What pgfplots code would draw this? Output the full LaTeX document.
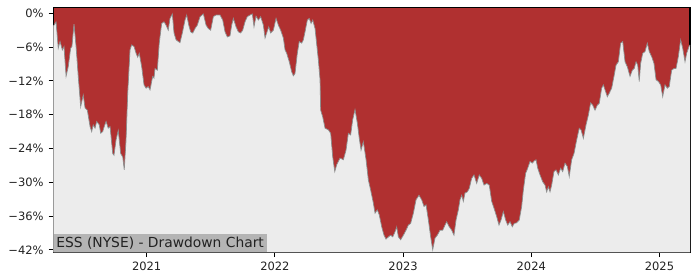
\documentclass[border=0pt]{standalone}
\usepackage{pgfplots}
\usepackage{pgfplotstable}
\pgfplotsset{compat=1.18}
\usepackage{fontspec}
\setmainfont{DejaVu Sans}
\definecolor{ddred}{HTML}{B03030}
\definecolor{bggray}{HTML}{ECECEC}
\definecolor{edgegray}{HTML}{8C8C8C}
\definecolor{boxgray}{HTML}{B4B4B4}
\definecolor{txt}{HTML}{222222}

\pgfplotstableread{
year dd
2020.271 -2.3
2020.293 -1.5
2020.310 -6.2
2020.324 -5.0
2020.342 -6.5
2020.355 -5.9
2020.371 -11.2
2020.388 -9.5
2020.407 -6.2
2020.417 -5.9
2020.433 -1.9
2020.449 -5.9
2020.466 -11.2
2020.485 -16.6
2020.505 -14.5
2020.519 -16.8
2020.537 -17.2
2020.558 -20.1
2020.571 -21.0
2020.583 -19.8
2020.597 -20.4
2020.610 -19.2
2020.630 -19.8
2020.641 -21.3
2020.657 -21.0
2020.669 -20.1
2020.683 -19.2
2020.700 -20.4
2020.714 -20.1
2020.735 -24.9
2020.745 -25.2
2020.761 -22.5
2020.778 -20.8
2020.797 -24.9
2020.813 -25.5
2020.825 -27.8
2020.839 -22.5
2020.852 -14.2
2020.870 -6.5
2020.883 -5.6
2020.901 -5.9
2020.917 -7.1
2020.930 -7.8
2020.942 -7.1
2020.961 -9.5
2020.979 -12.7
2020.995 -13.3
2021.012 -13.0
2021.026 -13.6
2021.039 -12.1
2021.047 -11.2
2021.057 -11.5
2021.065 -9.8
2021.083 -10.1
2021.098 -5.3
2021.117 -1.8
2021.135 -1.5
2021.151 -2.1
2021.168 -3.0
2021.182 -0.9
2021.200 -0.1
2021.213 -3.5
2021.229 -4.7
2021.246 -5.0
2021.260 -5.2
2021.278 -3.5
2021.299 -1.2
2021.312 -0.3
2021.328 -2.1
2021.343 -3.3
2021.359 -3.5
2021.377 -2.7
2021.395 -2.1
2021.416 -0.6
2021.442 -0.1
2021.463 -2.1
2021.481 -2.7
2021.499 -3.0
2021.520 -0.6
2021.541 -0.3
2021.572 -0.3
2021.593 -1.2
2021.611 -3.3
2021.629 -4.2
2021.650 -4.0
2021.663 -2.1
2021.676 -0.9
2021.697 -2.4
2021.715 -3.3
2021.733 -3.5
2021.749 -3.0
2021.767 -1.5
2021.785 -0.6
2021.806 -0.3
2021.824 -0.1
2021.837 -2.4
2021.853 -0.5
2021.871 -1.2
2021.889 -0.6
2021.910 -2.1
2021.923 -4.4
2021.936 -3.5
2021.952 -2.4
2021.967 -3.5
2021.988 -3.0
2022.009 -0.9
2022.027 -2.1
2022.045 -3.0
2022.066 -4.4
2022.079 -6.5
2022.092 -7.1
2022.112 -8.6
2022.131 -10.4
2022.144 -11.1
2022.157 -10.7
2022.175 -7.1
2022.190 -5.0
2022.209 -5.3
2022.222 -4.7
2022.235 -3.3
2022.253 -1.2
2022.268 -0.9
2022.282 -1.8
2022.295 -1.2
2022.313 -2.7
2022.339 -8.3
2022.352 -11.8
2022.357 -17.2
2022.373 -18.4
2022.391 -20.4
2022.417 -20.7
2022.435 -21.3
2022.451 -25.5
2022.467 -28.1
2022.482 -26.9
2022.508 -25.7
2022.534 -26.0
2022.555 -24.3
2022.573 -21.3
2022.591 -21.6
2022.607 -18.9
2022.625 -17.1
2022.643 -19.5
2022.658 -22.2
2022.672 -24.3
2022.690 -22.8
2022.711 -26.0
2022.729 -29.6
2022.747 -31.4
2022.768 -33.7
2022.781 -35.5
2022.799 -34.9
2022.814 -35.8
2022.833 -37.9
2022.851 -39.4
2022.867 -40.1
2022.885 -39.7
2022.903 -39.4
2022.919 -39.7
2022.937 -38.8
2022.950 -37.9
2022.963 -39.7
2022.981 -40.2
2023.002 -39.4
2023.023 -38.5
2023.041 -37.6
2023.059 -37.3
2023.080 -35.5
2023.101 -33.1
2023.124 -32.3
2023.145 -33.1
2023.163 -34.3
2023.179 -34.0
2023.197 -36.7
2023.215 -39.7
2023.231 -42.0
2023.249 -39.9
2023.267 -39.4
2023.288 -38.5
2023.309 -38.5
2023.327 -37.6
2023.340 -37.0
2023.360 -37.9
2023.379 -38.5
2023.397 -39.4
2023.413 -36.7
2023.431 -34.9
2023.444 -33.1
2023.457 -32.3
2023.470 -33.4
2023.483 -31.9
2023.501 -31.7
2023.516 -31.1
2023.535 -29.3
2023.553 -28.7
2023.574 -30.2
2023.594 -28.7
2023.613 -29.3
2023.631 -30.5
2023.652 -30.2
2023.672 -30.5
2023.691 -33.4
2023.709 -34.6
2023.730 -36.1
2023.748 -37.6
2023.764 -36.7
2023.782 -35.2
2023.800 -36.7
2023.816 -37.6
2023.834 -37.0
2023.852 -37.9
2023.867 -37.3
2023.886 -37.2
2023.906 -36.7
2023.925 -34.3
2023.938 -31.4
2023.956 -28.4
2023.972 -27.5
2023.990 -26.3
2024.008 -26.6
2024.023 -26.2
2024.037 -26.0
2024.050 -27.5
2024.068 -28.7
2024.089 -29.9
2024.107 -30.5
2024.120 -31.7
2024.133 -30.8
2024.146 -31.7
2024.159 -30.5
2024.177 -28.1
2024.193 -27.8
2024.211 -28.7
2024.229 -27.5
2024.245 -28.1
2024.263 -26.6
2024.281 -27.2
2024.296 -29.0
2024.315 -26.0
2024.333 -24.9
2024.354 -22.5
2024.374 -20.4
2024.388 -20.7
2024.406 -22.2
2024.427 -19.8
2024.445 -18.1
2024.463 -15.9
2024.479 -16.3
2024.497 -17.2
2024.515 -16.3
2024.530 -16.0
2024.549 -13.3
2024.562 -12.7
2024.575 -13.6
2024.593 -14.8
2024.608 -14.2
2024.627 -13.3
2024.645 -11.2
2024.661 -9.2
2024.679 -8.6
2024.697 -5.3
2024.713 -5.0
2024.731 -8.6
2024.749 -9.5
2024.770 -11.2
2024.788 -10.1
2024.803 -9.8
2024.817 -8.6
2024.830 -9.2
2024.842 -12.1
2024.853 -8.9
2024.869 -7.1
2024.887 -6.8
2024.905 -5.3
2024.920 -6.8
2024.939 -7.7
2024.957 -8.9
2024.973 -11.8
2024.991 -12.1
2025.009 -12.7
2025.025 -14.8
2025.043 -12.7
2025.061 -13.3
2025.076 -13.0
2025.095 -10.1
2025.113 -9.8
2025.129 -9.8
2025.147 -7.7
2025.165 -4.7
2025.181 -6.2
2025.199 -8.6
2025.212 -7.1
2025.230 -5.9
2025.238 -5.6
}\ddtable

\begin{document}
\begin{tikzpicture}
\path[use as bounding box] (0,0) rectangle (7in,2.8in);
\begin{axis}[
  at={(0.533in,0.277in)}, anchor=south west,
  scale only axis, width=6.367in, height=2.45in,
  xmin=2020.2715, xmax=2025.238, ymin=-42.43, ymax=1.07,
  axis background/.style={fill=ddred},
  axis line style={line width=0.8pt, black},
  xtick={2021,2022,2023,2024,2025},
  xticklabels={2021,2022,2023,2024,2025},
  ytick={-42,-36,-30,-24,-18,-12,-6,0},
  yticklabels={−42\%,−36\%,−30\%,−24\%,−18\%,−12\%,−6\%,0\%},
  tick align=outside, major tick length=3.5pt,
  tick style={line width=0.8pt, black},
  tick pos=left,
  minor tick num=0,
  ticklabel style={font=\fontsize{8.3}{10}\selectfont, text=txt},
]
\addplot[fill=bggray, draw=none] table[x=year, y=dd] {\ddtable} -- (rel axis cs:1,0) -- (rel axis cs:0,0) -- cycle;
\addplot[edgegray, line width=0.5pt] table[x=year, y=dd] {\ddtable};
\node[anchor=south west, fill=boxgray, text=txt, font=\fontsize{10}{12}\selectfont, inner xsep=2pt, inner ysep=2pt] at (rel axis cs:0,0) {ESS (NYSE) - Drawdown Chart};
\end{axis}
\end{tikzpicture}
\end{document}
